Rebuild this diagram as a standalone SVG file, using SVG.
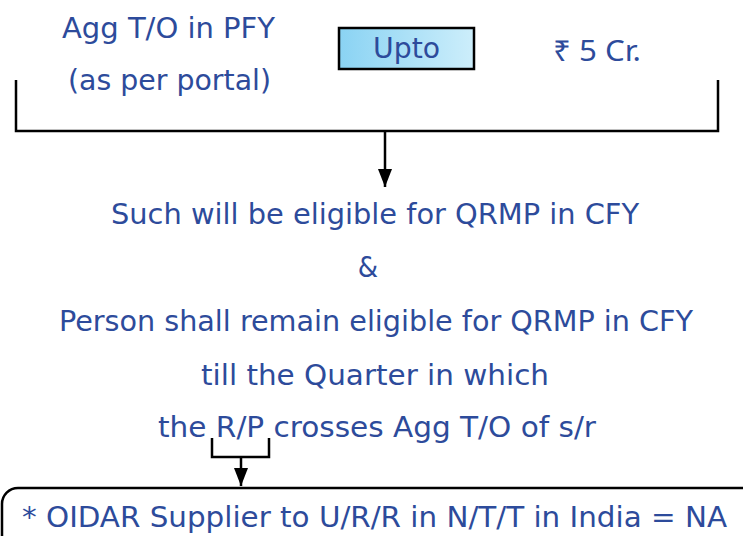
<svg xmlns="http://www.w3.org/2000/svg" width="743" height="536" viewBox="0 0 743 536">
  <defs>
    <linearGradient id="boxGrad" x1="0" y1="0" x2="1" y2="0">
      <stop offset="0" stop-color="#8AD3F3"/>
      <stop offset="1" stop-color="#CDEEFB"/>
    </linearGradient>
    <marker id="arrow" viewBox="0 0 18 14" refX="18" refY="7" markerWidth="18" markerHeight="14" markerUnits="userSpaceOnUse" orient="auto">
      <path d="M0,0 L18,7 L0,14 Z" fill="#000"/>
    </marker>
    <style>
      .t { font-family: "DejaVu Sans Condensed", "DejaVu Sans", sans-serif; font-size: 29px; fill: #2D4B9B; }
      .line { fill: none; stroke: #000; stroke-width: 2.5; }
    </style>
  </defs>
  <rect width="743" height="536" fill="#fff"/>

  <g id="agg-label">
    <text class="t" x="62" y="38" textLength="213" lengthAdjust="spacingAndGlyphs">Agg T/O in PFY</text>
    <text class="t" x="68" y="90" textLength="203" lengthAdjust="spacingAndGlyphs">(as per portal)</text>
  </g>

  <g id="upto">
    <rect x="339" y="28" width="135" height="41" fill="url(#boxGrad)" stroke="#000" stroke-width="2.5"/>
    <text class="t" x="373" y="58" textLength="67" lengthAdjust="spacingAndGlyphs">Upto</text>
  </g>

  <g id="amount">
    <text x="553" y="61" style="font-family: 'Noto Sans', 'DejaVu Sans', sans-serif; font-size: 29px; fill: #2D4B9B;" textLength="88" lengthAdjust="spacingAndGlyphs">₹ 5 Cr.</text>
  </g>

  <g id="connectors">
    <path class="line" d="M16,80 V131 H718 V80"/>
    <path class="line" d="M385,131 V187" marker-end="url(#arrow)"/>
    <path class="line" d="M212,438 V457 H269 V438"/>
    <path class="line" d="M241,457 V486" marker-end="url(#arrow)"/>
  </g>

  <g id="eligibility">
    <text class="t" x="111" y="224" textLength="528" lengthAdjust="spacingAndGlyphs">Such will be eligible for QRMP in CFY</text>
    <text class="t" x="368" y="277" text-anchor="middle">&amp;</text>
    <text class="t" x="59" y="331" textLength="634" lengthAdjust="spacingAndGlyphs">Person shall remain eligible for QRMP in CFY</text>
    <text class="t" x="201" y="385" textLength="348" lengthAdjust="spacingAndGlyphs">till the Quarter in which</text>
    <text class="t" x="158" y="437" textLength="438" lengthAdjust="spacingAndGlyphs">the R/P crosses Agg T/O of s/r</text>
  </g>

  <g id="oidar">
    <rect x="2" y="488" width="760" height="70" rx="16" ry="16" fill="none" stroke="#000" stroke-width="2.5"/>
    <text class="t" x="22" y="527" textLength="705" lengthAdjust="spacingAndGlyphs">* OIDAR Supplier to U/R/R in N/T/T in India = NA</text>
  </g>
</svg>
